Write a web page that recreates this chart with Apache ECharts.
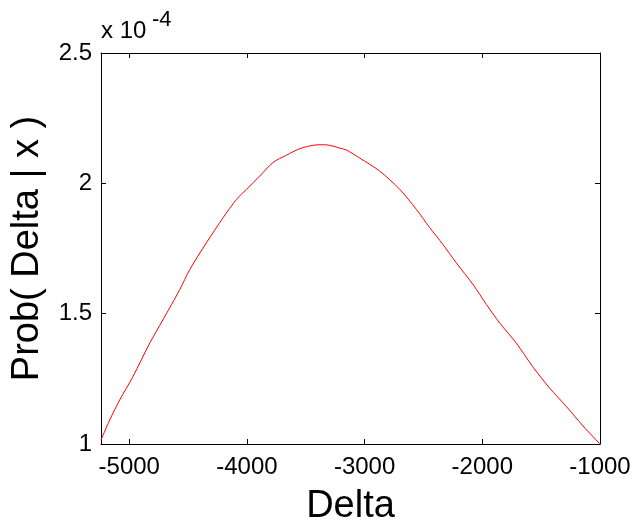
<!DOCTYPE html>
<html>
<head>
<meta charset="utf-8">
<script src="https://cdn.jsdelivr.net/npm/echarts@6/dist/echarts.min.js"></script>
<style>
html,body{margin:0;padding:0;background:#fff;}
#chart{width:641px;height:531px;}
</style>
</head>
<body>
<div id="chart"></div>
<script>
// Data (values in units of 1e-4)
const deltaValues = [-5240, -5166, -5081, -4968, -4826, -4713, -4571, -4486, -4344, -4203, -4089, -4004, -3891, -3778, -3664, -3551, -3438, -3370, -3296, -3211, -3155, -3042, -2872, -2702, -2560, -2447, -2334, -2221, -2079, -1965, -1852, -1711, -1569, -1427, -1286, -1144, -1000];
const probValues  = [1.015, 1.092, 1.169, 1.259, 1.387, 1.477, 1.592, 1.669, 1.772, 1.868, 1.938, 1.977, 2.028, 2.080, 2.108, 2.133, 2.146, 2.148, 2.146, 2.135, 2.128, 2.097, 2.047, 1.977, 1.900, 1.830, 1.765, 1.695, 1.612, 1.535, 1.464, 1.387, 1.295, 1.214, 1.144, 1.069, 1.000];
const xTickValues = [-5000, -4000, -3000, -2000, -1000];
const yTickValues = [1, 1.5, 2, 2.5];
const xLabel = 'Delta';
const yLabel = 'Prob( Delta | x )';
const multiplierBase = 'x 10';
const multiplierExp = '-4';

const FONT = "'Liberation Sans', Arial, Helvetica, sans-serif";
const chart = echarts.init(document.getElementById('chart'), null, {renderer: 'canvas'});
const seriesData = deltaValues.map((d, i) => [d, probValues[i]]);

const axisLineStyle = {show: true, lineStyle: {color: '#000', width: 1}};
const tickStyle = {show: true, inside: true, length: 5, lineStyle: {color: '#000', width: 1}};

chart.setOption({
  animation: false,
  backgroundColor: '#fff',
  grid: {left: 101, top: 53, right: 41, bottom: 85, containLabel: false},
  xAxis: [{
    type: 'value', min: -5240, max: -1000, position: 'bottom',
    name: xLabel, nameLocation: 'middle', nameGap: 44,
    nameTextStyle: {fontFamily: FONT, fontSize: 38, color: '#000'},
    axisLine: axisLineStyle,
    axisTick: Object.assign({customValues: xTickValues}, tickStyle),
    axisLabel: {customValues: xTickValues, fontFamily: FONT, fontSize: 24, color: '#000', margin: 11,
      formatter: v => String(v)},
    splitLine: {show: false}
  }, {
    type: 'value', min: -5240, max: -1000, position: 'top',
    axisLine: axisLineStyle,
    axisTick: Object.assign({customValues: xTickValues}, tickStyle),
    axisLabel: {show: false},
    splitLine: {show: false}
  }],
  yAxis: [{
    type: 'value', min: 1, max: 2.5, interval: 0.5, position: 'left',
    name: yLabel, nameLocation: 'middle', nameGap: 54,
    nameTextStyle: {fontFamily: FONT, fontSize: 38, color: '#000'},
    axisLine: axisLineStyle,
    axisTick: tickStyle,
    axisLabel: {fontFamily: FONT, fontSize: 24, color: '#000', margin: 9,
      formatter: v => yTickValues.includes(v) ? String(v) : ''},
    splitLine: {show: false}
  }, {
    type: 'value', min: 1, max: 2.5, interval: 0.5, position: 'right',
    axisLine: axisLineStyle,
    axisTick: tickStyle,
    axisLabel: {show: false},
    splitLine: {show: false}
  }],
  graphic: [
    {type: 'text', left: 101, top: 19, style: {text: multiplierBase, fontSize: 24, fontFamily: FONT, fill: '#000'}},
    {type: 'text', left: 152, top: 9, style: {text: multiplierExp, fontSize: 22, fontFamily: FONT, fill: '#000'}}
  ],
  series: [{
    type: 'line', data: seriesData, xAxisIndex: 0, yAxisIndex: 0,
    showSymbol: false, smooth: 0.3,
    lineStyle: {color: '#ff0000', width: 1},
    itemStyle: {color: '#ff0000'}
  }]
});
</script>
</body>
</html>
